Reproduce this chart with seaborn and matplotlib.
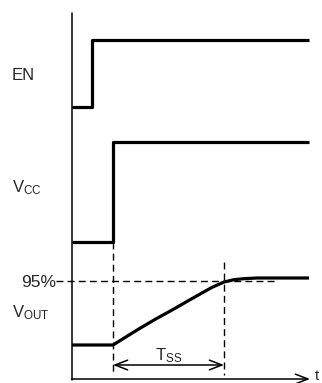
import matplotlib
matplotlib.use("Agg")
import matplotlib.pyplot as plt
import seaborn as sns
import pandas as pd
import numpy as np

# ---- data (time in arbitrary units, levels normalised 0..1) ----
t_end = 237
t_en_rise = 20
t_vcc_rise = 41
t_ss_end = 152
en_t = [0, t_en_rise, t_en_rise, t_end]
en_lvl = [0, 0, 1, 1]
vcc_t = [0, t_vcc_rise, t_vcc_rise, t_end]
vcc_lvl = [0, 0, 1, 1]
vout_t = [0, 41, 55, 68, 84, 101, 115, 128, 140, 152, 162, 172, 185, 237]
vout_lvl = [0, 0, 0.13, 0.25, 0.39, 0.53, 0.65, 0.76, 0.86, 0.94, 0.975, 0.99, 1.0, 1.0]
pct_level = 0.95
labels = ["EN", r"$\mathrm{V_{CC}}$", r"$\mathrm{V_{OUT}}$"]

# ---- layout (style only) ----
offsets = {"EN": 272, "VCC": 137, "VOUT": 34}
amps = {"EN": 67, "VCC": 100, "VOUT": 67}

sns.set_style("white")
plt.rcParams["font.family"] = ["Liberation Sans", "DejaVu Sans"]
plt.rcParams["mathtext.fontset"] = "custom"
plt.rcParams["mathtext.rm"] = "Liberation Sans"

fig = plt.figure(figsize=(3.22, 3.83), dpi=100)
ax = fig.add_axes([0, 0, 1, 1])
ax.set_xlim(-72, 250)
ax.set_ylim(-4, 379)
ax.axis("off")

def df_for(name, t, lvl):
    return pd.DataFrame({"t": t, "v": np.array(lvl) * amps[name] + offsets[name]})

lw = 2.3
for name, t, lvl in [("EN", en_t, en_lvl), ("VCC", vcc_t, vcc_lvl), ("VOUT", vout_t, vout_lvl)]:
    d = df_for(name, t, lvl)
    sns.lineplot(data=d, x="t", y="v", sort=False, estimator=None, color="black",
                 linewidth=lw, ax=ax, solid_joinstyle="round", solid_capstyle="butt")

# axes
ax.plot([0, 0], [-0.5, 366], color="black", linewidth=1.1)
ax.annotate("", xy=(t_end + 1, 0), xytext=(-0.5, 0),
            arrowprops=dict(arrowstyle="->,head_length=0.9,head_width=0.35", color="black",
                            linewidth=1.1, shrinkA=0, shrinkB=0))
ax.text(t_end + 6, -1.5, "t", fontsize=11, ha="left", va="baseline")

# dashed guides
dash = dict(color="black", linewidth=1.0, linestyle=(0, (5, 3)))
y95 = offsets["VOUT"] + pct_level * amps["VOUT"]
ax.plot([-16, 204], [y95, y95], **dash)
ax.plot([t_vcc_rise, t_vcc_rise], [offsets["VCC"], 4], **dash)
ax.plot([t_ss_end, t_ss_end], [117, 4], **dash)

# Tss arrow
ax.annotate("", xy=(t_ss_end, 14), xytext=(t_vcc_rise, 14),
            arrowprops=dict(arrowstyle="<->,head_length=0.9,head_width=0.35", color="black",
                            linewidth=1.1, shrinkA=0, shrinkB=0))
ax.text((t_vcc_rise + t_ss_end) / 2, 19, r"$\mathrm{T_{SS}}$", fontsize=12, ha="center", va="baseline")

# labels
ax.text(-60, 299, labels[0], fontsize=12, ha="left", va="baseline")
ax.text(-60, 187, labels[1], fontsize=12, ha="left", va="baseline")
ax.text(-16, 92, "95%", fontsize=12.5, ha="right", va="baseline")
ax.text(-60, 62, labels[2], fontsize=12, ha="left", va="baseline")

fig.savefig("out.png", dpi=100)
